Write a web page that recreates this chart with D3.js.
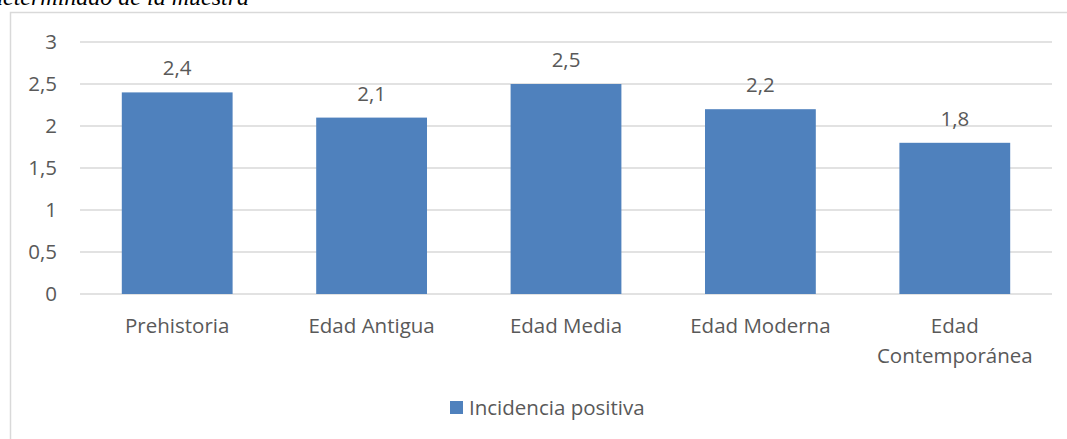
<!DOCTYPE html>
<html><head><meta charset="utf-8">
<script src="https://cdn.jsdelivr.net/npm/d3@7"></script>
<style>body{margin:0;background:#fff;}svg{display:block;}</style>
</head><body>
<svg id="c" width="1067" height="439"></svg>
<script>
const categories = ["Prehistoria", "Edad Antigua", "Edad Media", "Edad Moderna", "Edad Contemporánea"];
const values = [2.4, 2.1, 2.5, 2.2, 1.8];
const yTicks = [0, 0.5, 1, 1.5, 2, 2.5, 3];
const seriesName = "Incidencia positiva";
const captionText = "determinado de la muestra";

const svg = d3.select("#c");
const fmt = v => String(v).replace(".", ",");
const txt = "#595959", grid = "#D9D9D9", barC = "#4F81BD";
const font = "'Open Sans', sans-serif";
const fs = 20.5;

// caption (clipped at top, as in the source)
svg.append("text").attr("x", 249).attr("y", 5).attr("text-anchor", "end")
  .attr("font-family", "'Liberation Serif', serif").attr("font-style", "italic")
  .attr("font-size", 24).attr("fill", "#000").text(captionText);

// chart border
svg.append("rect").attr("x", 10.5).attr("y", 12.5).attr("width", 1070).attr("height", 450)
  .attr("fill", "none").attr("stroke", grid).attr("stroke-width", 1.5);

const x = d3.scaleBand().domain(categories).range([80, 1052]).paddingInner(0.43).paddingOuter(0.215);
const y = d3.scaleLinear().domain([0, 3]).range([294, 42]);

// gridlines
svg.append("g").selectAll("line").data(yTicks).join("line")
  .attr("x1", 80).attr("x2", 1052).attr("y1", d => y(d)).attr("y2", d => y(d))
  .attr("stroke", grid).attr("stroke-width", 1.3);

// y axis labels
const ya = svg.append("g").attr("transform", "translate(80,0)")
  .call(d3.axisLeft(y).tickValues(yTicks).tickFormat(fmt).tickSize(0).tickPadding(23));
ya.select(".domain").remove();
ya.selectAll("text").attr("font-family", font).attr("font-size", fs).attr("fill", txt);

// bars
svg.append("g").selectAll("rect").data(values).join("rect")
  .attr("x", (d, i) => x(categories[i])).attr("width", x.bandwidth())
  .attr("y", d => y(d)).attr("height", d => y(0) - y(d)).attr("fill", barC);

// value labels
svg.append("g").selectAll("text").data(values).join("text")
  .attr("x", (d, i) => x(categories[i]) + x.bandwidth() / 2).attr("y", d => y(d) - 17)
  .attr("text-anchor", "middle").attr("font-family", font).attr("font-size", fs).attr("fill", txt)
  .text(fmt);

// x labels
const xl = svg.append("g").selectAll("text").data(categories).join("text")
  .attr("x", d => x(d) + x.bandwidth() / 2).attr("y", 333)
  .attr("text-anchor", "middle").attr("font-family", font).attr("font-size", fs).attr("fill", txt);
xl.each(function(d) {
  const t = d3.select(this);
  const words = d === "Edad Contemporánea" ? ["Edad", "Contemporánea"] : [d];
  words.forEach((w, i) => t.append("tspan").attr("x", x(d) + x.bandwidth() / 2).attr("dy", i ? 30 : 0).text(w));
});

// legend
svg.append("rect").attr("x", 450).attr("y", 401).attr("width", 13).attr("height", 13).attr("fill", barC);
svg.append("text").attr("x", 469).attr("y", 415).attr("font-family", font).attr("font-size", fs)
  .attr("fill", txt).text(seriesName);
</script>
</body></html>
